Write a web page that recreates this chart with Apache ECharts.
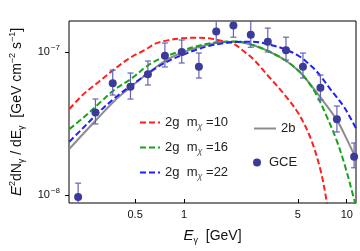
<!DOCTYPE html>
<html>
<head>
<meta charset="utf-8">
<script src="https://cdn.jsdelivr.net/npm/echarts@6/dist/echarts.min.js"></script>
<style>html,body{margin:0;padding:0;background:#fff}#c{width:360px;height:251px}</style>
</head>
<body>
<div id="c"></div>
<script>
// ---- data ----
const xTicks = [0.5, 1, 5, 10];
const yTicks = [1e-8, 1e-7];

const energyGCE = [0.223,0.285,0.364,0.468,0.599,0.762,0.967,1.233,1.576,2.01,2.57,3.27,4.23,5.38,6.89,8.7,11.1];
const fluxGCE   = [9.7e-9,3.77e-8,6.04e-8,5.71e-8,7.0e-8,9.4e-8,1.0e-7,7.9e-8,1.39e-7,1.53e-7,1.32e-7,1.18e-7,1.03e-7,7.9e-8,5.63e-8,3.38e-8,1.85e-8];
const fluxGCELo = [7.5e-9,3.14e-8,5.0e-8,4.69e-8,5.88e-8,7.86e-8,8.38e-8,6.58e-8,1.156e-7,1.27e-7,1.08e-7,1.0e-7,8.79e-8,6.58e-8,4.61e-8,2.76e-8,1.55e-8];
const fluxGCEHi = [1.21e-8,4.69e-8,7.48e-8,7.13e-8,8.65e-8,1.156e-7,1.213e-7,9.84e-8,1.67e-7,1.9e-7,1.65e-7,1.47e-7,1.27e-7,9.84e-8,6.9e-8,4.19e-8,2.31e-8];

const energyM10 = [0.197,0.2375,0.2995,0.378,0.4774,0.5745,0.6729,0.811,0.9765,1.176,1.417,1.707,1.998,2.297,2.641,3.334,4.21,5.07,5.99,6.89,7.56,7.92];
const fluxM10   = [3.99e-8,5.0e-8,6.2e-8,7.69e-8,9.27e-8,1.033e-7,1.15e-7,1.213e-7,1.247e-7,1.259e-7,1.247e-7,1.194e-7,1.15e-7,1.024e-7,9.0e-8,6.69e-8,4.92e-8,3.68e-8,2.5e-8,1.5e-8,8.79e-9,6.2e-9];

const energyM16 = [0.197,0.2375,0.2995,0.378,0.4774,0.5745,0.6729,0.811,0.9765,1.176,1.417,1.707,2.095,2.641,3.334,4.21,5.07,5.745,6.58,7.56,8.7,9.77,10.96,11.71];
const fluxM16   = [2.89e-8,3.44e-8,4.36e-8,5.51e-8,6.55e-8,7.79e-8,8.72e-8,9.53e-8,1.024e-7,1.093e-7,1.147e-7,1.178e-7,1.184e-7,1.119e-7,1.008e-7,8.72e-8,7.36e-8,6.27e-8,4.92e-8,3.51e-8,2.38e-8,1.59e-8,9.84e-9,7.48e-9];

const energyM22 = [0.197,0.2375,0.2995,0.378,0.4774,0.5745,0.6729,0.811,0.9765,1.176,1.417,1.707,2.095,2.641,3.334,4.21,5.07,5.72,6.58,7.92,9.54,10.62,11.55];
const fluxM22   = [2.36e-8,2.92e-8,3.8e-8,4.81e-8,5.88e-8,6.85e-8,7.73e-8,8.72e-8,9.53e-8,1.033e-7,1.101e-7,1.147e-7,1.175e-7,1.18e-7,1.128e-7,1.041e-7,9.38e-8,8.44e-8,7.25e-8,5.51e-8,4.19e-8,3.4e-8,2.85e-8];

const energy2b = [0.197,0.2375,0.2995,0.378,0.4774,0.5745,0.6729,0.811,0.9765,1.176,1.417,1.707,2.095,2.641,3.334,4.21,5.07,5.745,6.89,8.7,10.0,11.5];
const flux2b   = [2.1e-8,2.65e-8,3.51e-8,4.62e-8,5.78e-8,6.85e-8,7.85e-8,9.01e-8,9.92e-8,1.066e-7,1.128e-7,1.169e-7,1.18e-7,1.119e-7,1.008e-7,8.72e-8,7.36e-8,6.27e-8,4.81e-8,3.34e-8,2.46e-8,1.76e-8];

const names = {m10: '2g  m{sb|χ} =10', m16: '2g  m{sb|χ} =16', m22: '2g  m{sb|χ} =22', '2b': '2b', GCE: 'GCE'};

// ---- chart ----
const FONT = 'Liberation Sans, Arial, sans-serif';
const chart = echarts.init(document.getElementById('c'), null, {renderer: 'canvas'});
const zip = (a, b) => a.map((v, i) => [v, b[i]]);
const dash = [6, 3];
function lineSeries(name, xs, ys, color, type) {
  return {
    name, type: 'line', data: zip(xs, ys), showSymbol: false, symbol: 'none',
    smooth: 0.35, clip: true, z: 3,
    lineStyle: {color, width: 2, type},
    itemStyle: {color}
  };
}
const legendText = {
  fontFamily: FONT, fontSize: 13, color: '#222',
  rich: {sb: {fontFamily: FONT, fontSize: 9, color: '#555', fontStyle: 'italic', padding: [8, 0, 0, 0]}}
};
chart.setOption({
  animation: false,
  backgroundColor: '#fff',
  grid: {left: 65, right: 4, top: 21, bottom: 48, show: true, borderColor: '#000', borderWidth: 1, backgroundColor: 'transparent'},
  xAxis: {
    type: 'log', min: 0.196, max: 11.4,
    axisLine: {show: false},
    splitLine: {show: false}, minorTick: {show: false},
    axisTick: {show: true, inside: true, length: 4, customValues: xTicks, lineStyle: {color: '#000'}},
    axisLabel: {customValues: xTicks, margin: 6, fontFamily: FONT, fontSize: 11, color: '#111',
      formatter: v => String(Math.round(v * 10) / 10)},
    name: '{i|E}{sb|γ}{n|  [GeV]}', nameLocation: 'middle', nameGap: 23,
    nameTextStyle: {rich: {
      i: {fontFamily: FONT, fontSize: 15, fontStyle: 'italic', color: '#111', lineHeight: 20},
      n: {fontFamily: FONT, fontSize: 14, color: '#111', lineHeight: 20},
      sb: {fontFamily: FONT, fontSize: 9, color: '#111', padding: [10, 0, 0, 0]}
    }}
  },
  yAxis: {
    type: 'log', min: 8.79e-9, max: 1.648e-7,
    axisLine: {show: false},
    splitLine: {show: false}, minorTick: {show: false},
    axisTick: {show: true, inside: false, length: 4, customValues: yTicks, lineStyle: {color: '#000'}},
    axisLabel: {customValues: yTicks, margin: 9,
      formatter: v => '{b|10}{s|' + (Math.round(Math.log10(v)) < 0 ? '−' + Math.abs(Math.round(Math.log10(v))) : Math.round(Math.log10(v))) + '}',
      rich: {
        b: {fontFamily: FONT, fontSize: 11, color: '#111'},
        s: {fontFamily: FONT, fontSize: 8, color: '#111', padding: [0, 0, 8, 1]}
      }},
    name: '{i|E}{sp|2}{n|dN}{sb|γ}{n| / dE}{sb|γ}{n|  [GeV cm}{sp|−2}{n| s}{sp|−1}{n|]}',
    nameLocation: 'middle', nameGap: 42, nameRotate: 90,
    nameTextStyle: {rich: {
      i: {fontFamily: FONT, fontSize: 15, fontStyle: 'italic', color: '#111', lineHeight: 20},
      n: {fontFamily: FONT, fontSize: 14, color: '#111', lineHeight: 20},
      sp: {fontFamily: FONT, fontSize: 9, color: '#111', padding: [0, 0, 9, 0]},
      sb: {fontFamily: FONT, fontSize: 9, color: '#111', padding: [10, 0, 0, 0]}
    }}
  },
  legend: [
    {data: ['m10', 'm16', 'm22'], orient: 'vertical', left: 134, top: 111, itemWidth: 20, itemHeight: 14, itemGap: 10,
      itemStyle: {opacity: 0},
      formatter: n => names[n], textStyle: legendText, selectedMode: false},
    {data: ['2b'], orient: 'vertical', left: 248, top: 117, itemWidth: 22, itemHeight: 14,
      itemStyle: {opacity: 0},
      formatter: n => names[n], textStyle: legendText, selectedMode: false},
    {data: ['GCE'], orient: 'vertical', left: 248, top: 151, itemWidth: 8, itemHeight: 8,
      formatter: n => names[n], textStyle: Object.assign({}, legendText, {padding: [0, 0, 0, 3]}), selectedMode: false}
  ],
  series: [
    lineSeries('2b', energy2b, flux2b, '#8c8c8c', 'solid'),
    lineSeries('m10', energyM10, fluxM10, '#ff1f1f', dash),
    lineSeries('m16', energyM16, fluxM16, '#1aa31a', dash),
    lineSeries('m22', energyM22, fluxM22, '#1f1fff', dash),
    {
      name: 'GCEerr', type: 'custom', clip: true, z: 4,
      data: energyGCE.map((e, i) => [e, fluxGCELo[i], fluxGCEHi[i]]),
      encode: {x: 0, y: [1, 2]},
      renderItem: (params, api) => {
        const x = api.value(0);
        const p1 = api.coord([x, api.value(2)]);
        const p2 = api.coord([x, api.value(1)]);
        const w = 3, st = {stroke: '#6464b4', lineWidth: 1.2};
        return {type: 'group', children: [
          {type: 'line', shape: {x1: p1[0], y1: p1[1], x2: p2[0], y2: p2[1]}, style: st},
          {type: 'line', shape: {x1: p1[0] - w, y1: p1[1], x2: p1[0] + w, y2: p1[1]}, style: st},
          {type: 'line', shape: {x1: p2[0] - w, y1: p2[1], x2: p2[0] + w, y2: p2[1]}, style: st}
        ]};
      }
    },
    {
      name: 'GCE', type: 'scatter', data: zip(energyGCE, fluxGCE), symbol: 'circle', symbolSize: 8, z: 5,
      itemStyle: {color: '#3b3b99', opacity: 1}
    }
  ]
});
</script>
</body>
</html>
